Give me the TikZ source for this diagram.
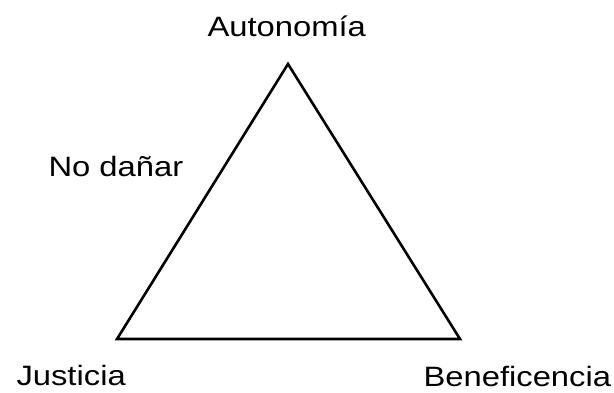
\documentclass[tikz,border=0pt]{standalone}
\usepackage{fontspec}
\setmainfont{Liberation Sans}
\begin{document}
\begin{tikzpicture}[x=1pt,y=-1pt,line width=2.6pt]
  \useasboundingbox (0,0) rectangle (614,392);
  \tikzset{label/.style={inner sep=0pt,anchor=base west,xscale=1.17,
      font=\fontsize{28}{32}\selectfont}}

  \coordinate (T) at (288,64);
  \coordinate (L) at (117,339);
  \coordinate (R) at (460,339);

  \node[label] (aut) at (206,36) {Autonomía};
  \node[label] (dan) at (47,176) {No dañar};
  \node[label] (jus) at (15,385) {Justicia};
  \node[label] (ben) at (422,386) {Beneficencia};

  \draw (T) -- (L) -- (R) -- cycle;
\end{tikzpicture}
\end{document}
